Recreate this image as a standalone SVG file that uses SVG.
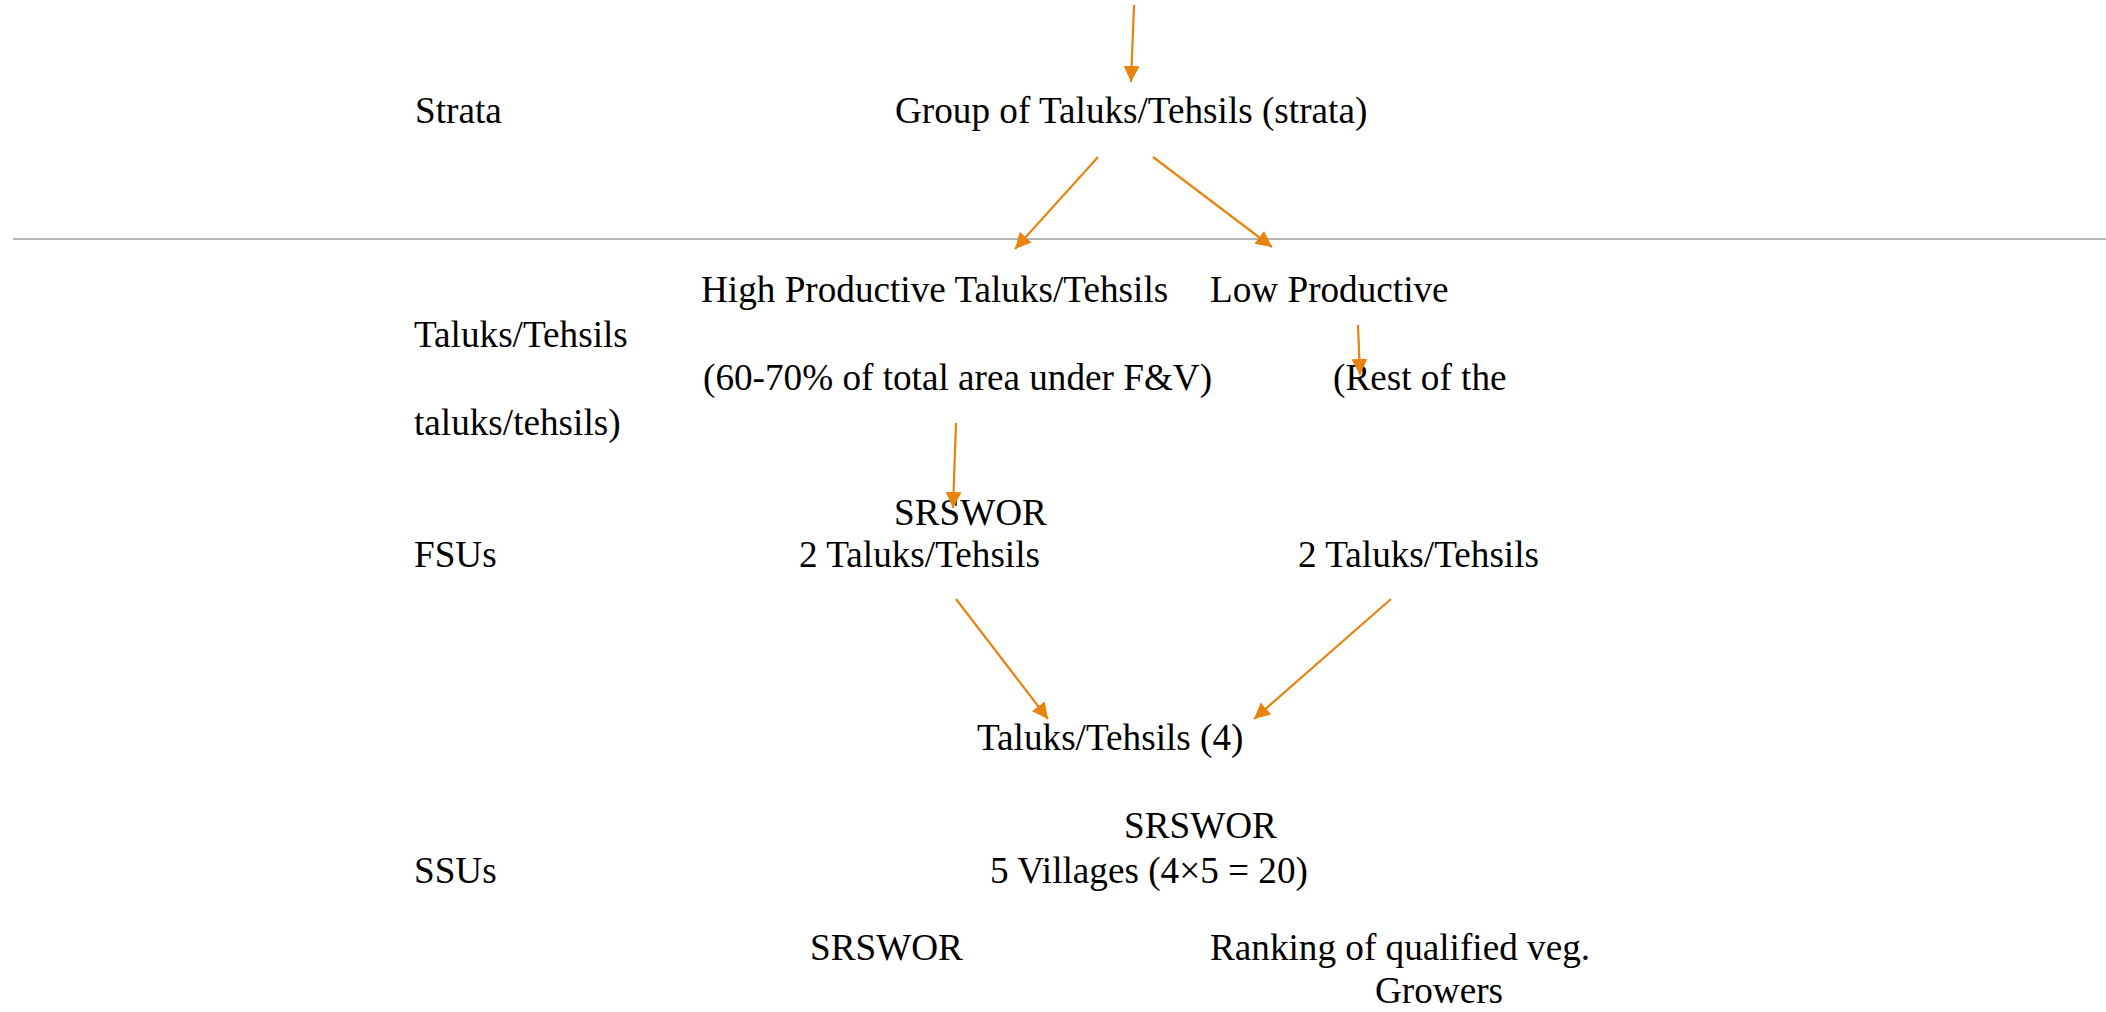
<svg xmlns="http://www.w3.org/2000/svg" width="2106" height="1012" viewBox="0 0 2106 1012">
<style>
text { font-family: "Liberation Serif", "Times New Roman", serif; font-size: 37.2px; fill: #000; }
.arr { stroke: #E8830F; stroke-width: 2.2; fill: none; marker-end: url(#ah); }
.sep { stroke: #9E9E9E; stroke-width: 1.6; }
</style>
<defs>
<marker id="ah" markerUnits="userSpaceOnUse" markerWidth="18" markerHeight="18" refX="16" refY="8" orient="auto">
<path d="M0,0 L16,8 L0,16 z" fill="#E8830F"/>
</marker>
</defs>
<rect width="2106" height="1012" fill="#fff"/>
<line class="sep" x1="13" y1="239" x2="2106" y2="239"/>
<g id="labels">
<text id="lbl-strata" x="415" y="123">Strata</text>
<text id="lbl-taluks" x="414" y="347">Taluks/Tehsils</text>
<text id="lbl-taluks2" x="414" y="435">taluks/tehsils)</text>
<text id="lbl-fsus" x="414" y="567">FSUs</text>
<text id="lbl-ssus" x="414" y="883">SSUs</text>
</g>
<g id="n-group"><text x="895" y="123">Group of Taluks/Tehsils (strata)</text></g>
<g id="n-high">
<text x="701" y="302">High Productive Taluks/Tehsils</text>
<text x="703" y="390">(60-70% of total area under F&amp;V)</text>
</g>
<g id="n-low">
<text x="1210" y="302">Low Productive</text>
<text x="1333" y="390">(Rest of the</text>
</g>
<g id="n-srswor1"><text x="894" y="525">SRSWOR</text></g>
<g id="n-fsu-high"><text x="799" y="567">2 Taluks/Tehsils</text></g>
<g id="n-fsu-low"><text x="1298" y="567">2 Taluks/Tehsils</text></g>
<g id="n-taluks4"><text x="977" y="750">Taluks/Tehsils (4)</text></g>
<g id="n-srswor2"><text x="1124" y="838">SRSWOR</text></g>
<g id="n-villages"><text x="990" y="883">5 Villages (4×5 = 20)</text></g>
<g id="n-srswor3"><text x="810" y="960">SRSWOR</text></g>
<g id="n-ranking">
<text x="1210" y="960">Ranking of qualified veg.</text>
<text x="1375" y="1003">Growers</text>
</g>
<g id="connectors">
<line class="arr" x1="1134" y1="5" x2="1131" y2="82"/>
<line class="arr" x1="1098" y1="157" x2="1015" y2="249"/>
<line class="arr" x1="1153" y1="157" x2="1272" y2="247"/>
<line class="arr" x1="1358" y1="325" x2="1360" y2="375"/>
<line class="arr" x1="956" y1="423" x2="953" y2="508"/>
<line class="arr" x1="956" y1="599" x2="1048" y2="719"/>
<line class="arr" x1="1391" y1="599" x2="1254" y2="719"/>
</g>
</svg>
